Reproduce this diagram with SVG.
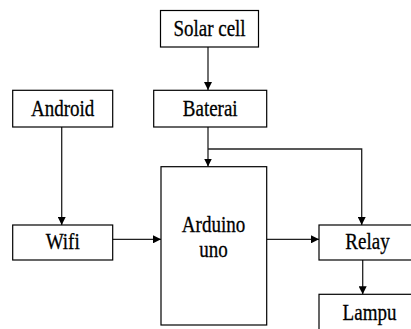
<svg xmlns="http://www.w3.org/2000/svg" width="411" height="329" viewBox="0 0 411 329">
<style>
.box{fill:#fff;stroke:#000;stroke-width:1.2}
.t{font-family:'Liberation Serif','Times New Roman',serif;font-size:19px;fill:#000;stroke:#000;stroke-width:0.25;text-anchor:middle}
.c{fill:none;stroke:#222;stroke-width:1.3}
</style>
<defs>
<marker id="ah" viewBox="0 0 10 10" refX="10" refY="5" markerWidth="8" markerHeight="8" markerUnits="userSpaceOnUse" orient="auto">
<path d="M0,0 L10,5 L0,10 Z" fill="#000"/>
</marker>
</defs>
<rect width="411" height="329" fill="#fff"/>
<g id="connectors">
<line class="c" x1="208" y1="47" x2="208" y2="90" marker-end="url(#ah)"/>
<line class="c" x1="61.7" y1="127" x2="61.7" y2="225" marker-end="url(#ah)"/>
<line class="c" x1="208" y1="127" x2="208" y2="166.5" marker-end="url(#ah)"/>
<polyline class="c" points="208,149 361.7,149 361.7,225" marker-end="url(#ah)"/>
<line class="c" x1="112.7" y1="239.3" x2="161" y2="239.3" marker-end="url(#ah)"/>
<line class="c" x1="266.7" y1="239.3" x2="319" y2="239.3" marker-end="url(#ah)"/>
<line class="c" x1="362.7" y1="260" x2="362.7" y2="294.3" marker-end="url(#ah)"/>
</g>
<g id="solar">
<rect class="box" x="160.5" y="10.5" width="98" height="36.5"/>
<text class="t" transform="translate(209.5,36) scale(1,1.18)">Solar cell</text>
</g>
<g id="android">
<rect class="box" x="12.7" y="90.3" width="100" height="36.7"/>
<text class="t" transform="translate(62.7,115.5) scale(1,1.18)">Android</text>
</g>
<g id="baterai">
<rect class="box" x="153.7" y="90.3" width="113" height="36.7"/>
<text class="t" transform="translate(210.2,115.5) scale(1,1.18)">Baterai</text>
</g>
<g id="wifi">
<rect class="box" x="12.7" y="225" width="100" height="35"/>
<text class="t" transform="translate(62.7,249) scale(1,1.18)">Wifi</text>
</g>
<g id="arduino">
<rect class="box" x="161" y="166.7" width="105.7" height="158.3"/>
<text class="t" transform="translate(213.5,232) scale(1,1.18)">Arduino</text>
<text class="t" transform="translate(213.5,256.7) scale(1,1.18)">uno</text>
</g>
<g id="relay">
<rect class="box" x="319" y="225" width="97" height="35"/>
<text class="t" transform="translate(367.5,249) scale(1,1.18)">Relay</text>
</g>
<g id="lampu">
<rect class="box" x="319" y="294.3" width="97" height="40"/>
<text class="t" transform="translate(369.5,320) scale(1,1.18)">Lampu</text>
</g>
</svg>
